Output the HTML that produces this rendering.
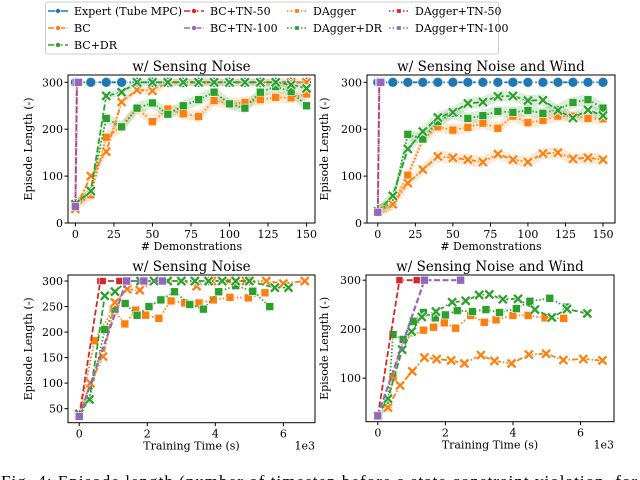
<!DOCTYPE html>
<html><head><meta charset="utf-8">
<style>
body{margin:0;background:#fff;}
svg{display:block;font-family:"DejaVu Serif","Liberation Serif",serif;}
</style></head>
<body>
<svg id="fig" width="640" height="480" viewBox="0 0 640 480" xmlns="http://www.w3.org/2000/svg">
<g id="legend"></g>
<text x="1" y="487" font-family="Liberation Serif, serif" font-size="17" textLength="650" lengthAdjust="spacing" fill="#000">Fig. 4: Episode length (number of timestep before a state constraint violation, for a</text>
</svg>
<script>
// ---- data: top panels (x = # demonstrations) ----
const demos = [0,10,20,30,40,50,60,70,80,90,100,110,120,130,140,150];
const tnDemos = [0,1,2];
// top-left: w/ sensing noise
const tlExpert = [300,300,300,300,300,300,300,300,300,300,300,300,300,300,300,300];
const tlBC = [30,100,152,258,284,282,300,300,300,300,300,300,300,300,300,300];
const tlBCDR = [40,68,271,279,300,300,300,300,300,300,300,300,300,300,295,287];
const tlDAgger = [35,60,183,205,245,216,243,233,227,261,254,257,263,268,267,275];
const tlDAggerDR = [40,68,223,205,245,256,232,250,263,279,254,245,279,291,280,250];
const tlTN = [35,300,300];
// top-right: w/ sensing noise and wind
const trExpert = [300,300,300,300,300,300,300,300,300,300,300,300,300,300,300,300];
const trBC = [25,40,85,114,142,139,135,130,147,135,130,148,150,137,139,135];
const trBCDR = [25,58,158,195,225,236,255,258,270,271,261,262,240,224,241,229];
const trDAgger = [25,40,102,178,205,198,204,213,202,228,214,219,228,228,223,222];
const trDAggerDR = [25,45,189,179,216,234,223,229,238,236,240,234,242,257,263,245];
const trTN = [23,300,300];
// ---- data: bottom panels (x = training time, 1e3 s) ----
// bottom-left
const blTN50T = [0,0.62,0.69,1.18];
const blTN50Y = [35,300,300,300];
const blTN100T = [0,1.39,1.9,2.44];
const blTN100Y = [35,300,300,300];
const blBCT = [0,0.33,0.7,1.05,1.41,1.78,2.2,2.6,3.0,3.45,3.9,4.4,4.9,5.5,6.0,6.63];
const blBCY = [35,100,152,258,284,282,300,300,300,290,300,300,300,300,295,300];
const blBCDRT = [0,0.3,0.75,1.05,1.4,1.8,2.2,2.6,3.0,3.4,3.8,4.2,4.6,5.0,5.75,6.15];
const blBCDRY = [40,68,271,279,300,300,300,300,300,300,300,300,300,300,287,287];
const blDAgT = [0,0.45,1.0,1.34,1.66,1.95,2.34,2.7,3.1,3.52,3.94,4.43,4.97,5.46];
const blDAgY = [35,183,245,216,243,233,227,261,257,257,263,268,267,277];
const blDAgDRT = [0,0.3,0.75,1.05,1.35,1.7,2.05,2.4,2.8,3.25,3.65,4.1,4.6,5.1,5.6];
const blDAgDRY = [40,68,205,245,256,233,250,263,279,254,245,279,291,280,250];
// bottom-right
const brTN50T = [0,0.64,1.15];
const brTN50Y = [23,300,300];
const brTN100T = [0,1.38,2.45];
const brTN100Y = [23,300,300];
const brBCT = [0,0.3,0.66,1.02,1.38,1.74,2.17,2.56,3.05,3.45,3.96,4.47,4.98,5.49,6.08,6.65];
const brBCY = [23,40,85,114,142,139,136,130,147,135,130,148,150,137,139,136];
const brBCDRT = [0,0.3,0.72,1.0,1.3,1.72,2.2,2.6,3.0,3.3,3.7,4.15,4.65,5.15,5.6,6.2];
const brBCDRY = [23,58,158,195,225,236,255,258,270,271,261,262,240,224,241,232];
const brDAgT = [0,0.3,0.45,0.75,1.35,1.65,1.97,2.3,2.75,3.15,3.5,4.0,4.45,4.95,5.5];
const brDAgY = [23,40,102,178,198,204,213,202,228,214,219,228,228,223,222];
const brDAgDRT = [0,0.3,0.45,0.75,1.05,1.35,1.7,2.0,2.35,2.8,3.2,3.6,4.1,4.5,5.09,5.58];
const brDAgDRY = [23,45,189,179,216,234,223,229,238,236,240,234,242,257,263,245];
const demoTicks = [0,25,50,75,100,125,150];
const topYTicks = [0,100,200,300];
const timeTicks = [0,2,4,6];
const blYTicks = [50,100,150,200,250,300];
const brYTicks = [100,200,300];

const NS="http://www.w3.org/2000/svg";
const svg=document.getElementById('fig');
const C={blue:'#1f77b4',orange:'#ff7f0e',green:'#2ca02c',red:'#d62728',purple:'#9467bd'};
function mk(tag,attrs,parent){const e=document.createElementNS(NS,tag);for(const k in attrs)e.setAttribute(k,attrs[k]);(parent||svg).appendChild(e);return e;}

function panel(name,box,xr,yr,title,xlabel,xt,yt,ylabX,sci){
  const g=mk('g',{});
  
  
  const sx=v=>box.x0+(v-xr[0])/(xr[1]-xr[0])*(box.x1-box.x0);
  const sy=v=>box.y1-(v-yr[0])/(yr[1]-yr[0])*(box.y1-box.y0);
  const clip='clip-'+name;
  const cp=mk('clipPath',{id:clip},g);mk('rect',{x:box.x0,y:box.y0-6,width:box.x1-box.x0,height:box.y1-box.y0+6},cp);
  const plot=mk('g',{'clip-path':'url(#'+clip+')'},g);
  const frame=mk('rect',{x:box.x0,y:box.y0,width:box.x1-box.x0,height:box.y1-box.y0,fill:'none',stroke:'#000','stroke-width':1},g);
  
  
  xt.forEach(v=>{const x=sx(v);mk('line',{x1:x,x2:x,y1:box.y1,y2:box.y1+3.5,stroke:'#000'},g);
    const t=mk('text',{x:x,y:box.y1+15,'text-anchor':'middle','font-size':11},g);t.textContent=v;
    
    });
  yt.forEach(v=>{const y=sy(v);mk('line',{x1:box.x0-3.5,x2:box.x0,y1:y,y2:y,stroke:'#000'},g);
    const t=mk('text',{x:box.x0-5,y:y+4,'text-anchor':'end','font-size':11},g);t.textContent=v;
    
    });
  const tt=mk('text',{x:(box.x0+box.x1)/2,y:box.y0-4,'text-anchor':'middle','font-size':13.5},g);tt.textContent=title;
  
  
  const xl=mk('text',{x:(box.x0+box.x1)/2,y:box.y1+27,'text-anchor':'middle','font-size':11},g);xl.textContent=xlabel;
  
  
  const yc=(box.y0+box.y1)/2;
  const yl=mk('text',{x:ylabX,y:yc,'text-anchor':'middle','font-size':11,transform:'rotate(-90 '+ylabX+' '+yc+')'},g);yl.textContent='Episode Length (-)';
  
  
  if(sci){const s=mk('text',{x:box.x1,y:box.y1+27,'text-anchor':'end','font-size':11},g);s.textContent='1e3';
    
    }
  return {sx,sy,plot};
}
function band(P,xs,ys,color,w){
  let d='M';xs.forEach((x,i)=>d+=P.sx(x)+','+P.sy(ys[i]+w)+' L');
  for(let i=xs.length-1;i>=0;i--)d+=P.sx(xs[i])+','+P.sy(ys[i]-w)+(i?' L':' Z');
  const p=mk('path',{d:d.replace(/ L$/,''),fill:color,'fill-opacity':0.18,stroke:'none'},P.plot);
  
  
}
function marker(g,kind,x,y,color,s){
  if(kind==='o')return mk('circle',{cx:x,cy:y,r:s,fill:color,stroke:'#fff','stroke-width':0.6},g);
  if(kind==='s')return mk('rect',{x:x-s,y:y-s,width:2*s,height:2*s,fill:color,stroke:'#fff','stroke-width':0.6},g);
  const gg=mk('g',{},g);
  mk('path',{d:`M${x-s},${y-s}L${x+s},${y+s}M${x-s},${y+s}L${x+s},${y-s}`,stroke:'#fff','stroke-width':4},gg);
  mk('path',{d:`M${x-s},${y-s}L${x+s},${y+s}M${x-s},${y+s}L${x+s},${y-s}`,stroke:color,'stroke-width':2.3},gg);
  return gg;
}
function series(P,name,xs,ys,color,dash,mkind,ms,lw){
  const g=mk('g',{},P.plot);
  
  
  const pts=xs.map((x,i)=>P.sx(x)+','+P.sy(ys[i])).join(' ');
  mk('polyline',{points:pts,fill:'none',stroke:color,'stroke-width':lw||1.8,'stroke-dasharray':dash},g);
  xs.forEach((x,i)=>{const m=marker(g,mkind,P.sx(x),P.sy(ys[i]),color,ms);
    
    });
}
const DD='6,2,1.5,2', DASH='6,2.5', DOT='1.5,2';

// top-left
let P=panel('panel-top-left',{x0:68,x1:315,y0:75,y1:223},[-4.8,155.5],[0,315.6],'w/ Sensing Noise','# Demonstrations',demoTicks,topYTicks,32,false);
band(P,demos,tlDAgger,C.orange,12);band(P,demos,tlDAggerDR,C.green,12);band(P,demos,tlBC,C.orange,8);band(P,demos,tlBCDR,C.green,8);
series(P,'expert-series',demos,tlExpert,C.blue,DD,'o',5);
series(P,'dagger-series',demos,tlDAgger,C.orange,DOT,'s',4);
series(P,'dagger-dr-series',demos,tlDAggerDR,C.green,DOT,'s',4);
series(P,'bc-series',demos,tlBC,C.orange,DD,'x',4);
series(P,'bc-dr-series',demos,tlBCDR,C.green,DASH,'x',4);
series(P,'bc-tn-50-series',tnDemos,tlTN,C.red,DASH,'o',3.5);
series(P,'tn-100-series',tnDemos,tlTN,C.purple,'1.5,1.5','s',4,2.2);

// top-right
P=panel('panel-top-right',{x0:367,x1:615,y0:75,y1:223},[-7.2,158],[0,315.6],'w/ Sensing Noise and Wind','# Demonstrations',demoTicks,topYTicks,328,false);
band(P,demos,trDAgger,C.orange,12);band(P,demos,trDAggerDR,C.green,12);band(P,demos,trBC,C.orange,12);band(P,demos,trBCDR,C.green,12);
series(P,'expert-series',demos,trExpert,C.blue,DD,'o',5);
series(P,'dagger-series',demos,trDAgger,C.orange,DOT,'s',4);
series(P,'dagger-dr-series',demos,trDAggerDR,C.green,DOT,'s',4);
series(P,'bc-series',demos,trBC,C.orange,DD,'x',4);
series(P,'bc-dr-series',demos,trBCDR,C.green,DASH,'x',4);
series(P,'bc-tn-50-series',tnDemos,trTN,C.red,DASH,'o',3.5);
series(P,'tn-100-series',tnDemos,trTN,C.purple,'1.5,1.5','s',4,2.2);

// bottom-left
P=panel('panel-bottom-left',{x0:68,x1:315,y0:275,y1:422.7},[-0.33,6.93],[22.5,311.8],'w/ Sensing Noise','Training Time (s)',timeTicks,blYTicks,32,true);
series(P,'dagger-series',blDAgT,blDAgY,C.orange,DOT,'s',4);
series(P,'dagger-dr-series',blDAgDRT,blDAgDRY,C.green,DOT,'s',4);
series(P,'bc-series',blBCT,blBCY,C.orange,DD,'x',4);
series(P,'bc-dr-series',blBCDRT,blBCDRY,C.green,DASH,'x',4);
series(P,'tn-50-series',blTN50T,blTN50Y,C.red,DASH,'s',3.5);
series(P,'tn-100-series',blTN100T,blTN100Y,C.purple,DASH,'s',4,2.2);

// bottom-right
P=panel('panel-bottom-right',{x0:366,x1:614,y0:275,y1:421.7},[-0.35,6.99],[11,310.6],'w/ Sensing Noise and Wind','Training Time (s)',timeTicks,brYTicks,328,true);
series(P,'dagger-series',brDAgT,brDAgY,C.orange,DOT,'s',4);
series(P,'dagger-dr-series',brDAgDRT,brDAgDRY,C.green,DOT,'s',4);
series(P,'bc-series',brBCT,brBCY,C.orange,DD,'x',4);
series(P,'bc-dr-series',brBCDRT,brBCDRY,C.green,DASH,'x',4);
series(P,'tn-50-series',brTN50T,brTN50Y,C.red,DASH,'s',3.5);
series(P,'tn-100-series',brTN100T,brTN100Y,C.purple,DASH,'s',4,2.2);

// legend
const L=document.getElementById('legend');
mk('rect',{x:45.5,y:2,width:453,height:52,rx:2,fill:'#fff',stroke:'#ccc'},L);
const items=[['Expert (Tube MPC)',C.blue,'',48,11,'o'],['BC',C.orange,DD,48,28,'o'],['BC+DR',C.green,DASH,48,45,'o'],
['BC+TN-50',C.red,DASH,184,11,'o'],['BC+TN-100',C.purple,DD,184,28,'o'],
['DAgger',C.orange,DOT,287,11,'s'],['DAgger+DR',C.green,DOT,287,28,'s'],
['DAgger+TN-50',C.red,DOT,389,11,'s'],['DAgger+TN-100',C.purple,DOT,389,28,'s']];
items.forEach(it=>{
  const g=mk('g',{},L);
  
  
  mk('line',{x1:it[3],x2:it[3]+20,y1:it[4],y2:it[4],stroke:it[1],'stroke-width':1.6,'stroke-dasharray':it[2]},g);
  marker(g,it[5],it[3]+10,it[4],it[1],it[5]==='o'?2.5:2.2);
  const t=mk('text',{x:it[3]+26,y:it[4]+4,'font-size':11},g);t.textContent=it[0];
});
</script>
</body></html>
